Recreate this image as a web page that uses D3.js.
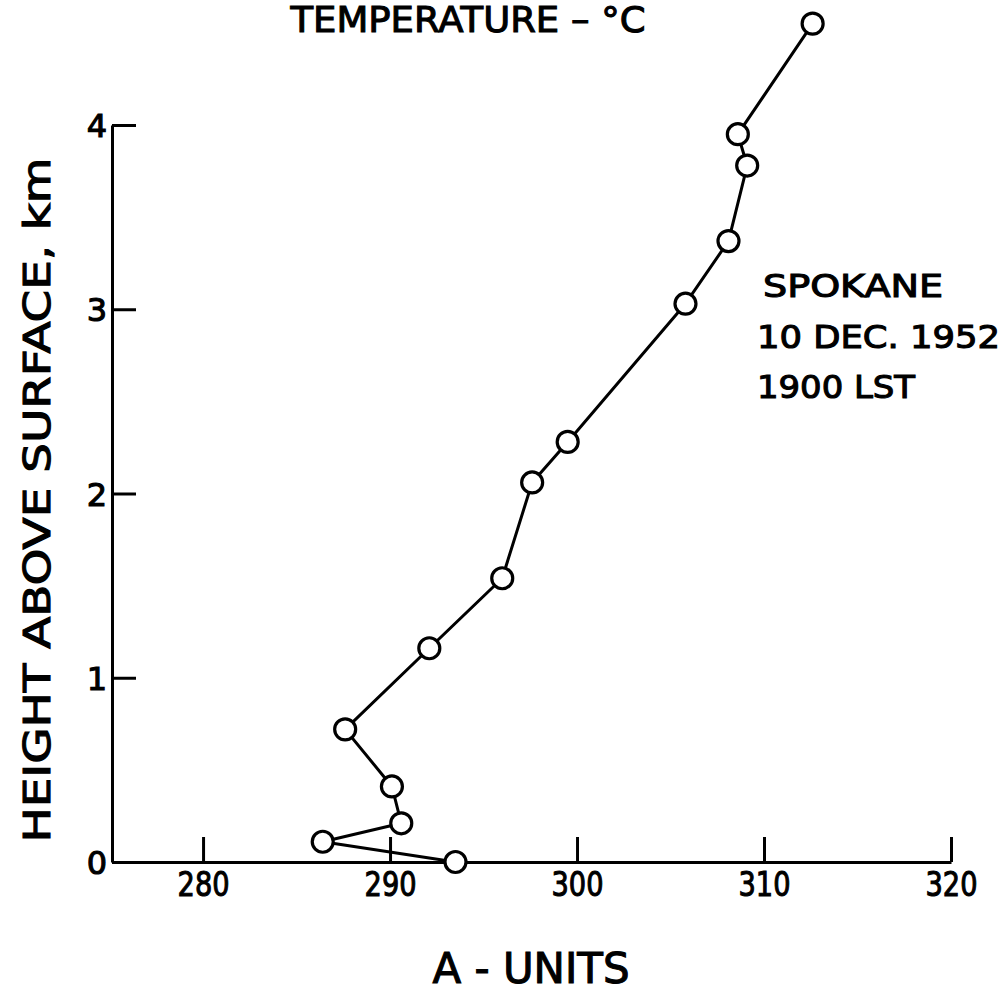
<!DOCTYPE html>
<html><head><meta charset="utf-8">
<script src="https://cdn.jsdelivr.net/npm/d3@7"></script>
<style>
body{margin:0;background:#fff;}
svg{display:block;}
text{font-family:"DejaVu Sans",sans-serif;fill:#000;stroke:#000;stroke-width:1.1px;}
</style></head>
<body>
<svg id="c" width="1008" height="992"></svg>
<script>
// Data (A-units vs height above surface, km), in sounding order
const aUnits = [293.5, 286.4, 290.6, 290.1, 287.6, 292.1, 296.0, 297.6, 299.5, 305.8, 308.1, 309.1, 308.6, 312.6];
const heightKm = [0.00, 0.11, 0.21, 0.41, 0.72, 1.16, 1.54, 2.06, 2.28, 3.03, 3.37, 3.78, 3.95, 4.55];
const xTicks = [280, 290, 300, 310, 320];
const yTicks = [0, 1, 2, 3, 4];
const annotation = ["SPOKANE", "10 DEC. 1952", "1900 LST"];

const svg = d3.select("#c");
const x = d3.scaleLinear().domain([275.13, 320]).range([112, 951]);
const y = d3.scaleLinear().domain([0, 4]).range([862, 125]);

// X axis
const gx = svg.append("g").attr("transform", "translate(0,862)")
  .call(d3.axisBottom(x).tickValues(xTicks).tickSize(-25).tickSizeOuter(0).tickFormat(d3.format("d")));
gx.select(".domain").attr("stroke", "#000").attr("stroke-width", 3);
gx.selectAll(".tick line").attr("stroke", "#000").attr("stroke-width", 3);
gx.selectAll(".tick text").attr("y", 11).attr("dy", "0.71em")
  .attr("textLength", 52).attr("lengthAdjust", "spacingAndGlyphs")
  .style("font-size", "33px").style("font-family", "DejaVu Sans");

// Y axis
const gy = svg.append("g").attr("transform", "translate(112,0)")
  .call(d3.axisLeft(y).tickValues(yTicks).tickSize(-24).tickSizeOuter(0).tickFormat(d3.format("d")));
gy.select(".domain").attr("stroke", "#000").attr("stroke-width", 3);
gy.selectAll(".tick line").attr("stroke", "#000").attr("stroke-width", 3);
gy.selectAll(".tick text").attr("x", -5).attr("dy", "0.36em")
  .style("font-size", "32px").style("font-family", "DejaVu Sans");

// Line
const line = d3.line().x((d, i) => x(aUnits[i])).y((d, i) => y(heightKm[i]));
svg.append("path").datum(aUnits).attr("d", line)
  .attr("fill", "none").attr("stroke", "#000").attr("stroke-width", 3).attr("stroke-linejoin", "round");

// Points
svg.selectAll("circle.pt").data(aUnits).enter().append("circle")
  .attr("class", "pt")
  .attr("cx", d => x(d)).attr("cy", (d, i) => y(heightKm[i])).attr("r", 10.5)
  .attr("fill", "#fff").attr("stroke", "#000").attr("stroke-width", 3.2);

// Titles
svg.append("text").attr("x", 468).attr("y", 32).attr("text-anchor", "middle")
  .attr("textLength", 355).attr("lengthAdjust", "spacingAndGlyphs")
  .style("font-size", "36px").text("TEMPERATURE – °C");

svg.append("text").attr("x", 531).attr("y", 983).attr("text-anchor", "middle")
  .attr("textLength", 197).attr("lengthAdjust", "spacingAndGlyphs")
  .style("font-size", "42px").text("A - UNITS");

svg.append("text").attr("transform", "translate(50,500) rotate(-90)").attr("text-anchor", "middle")
  .attr("textLength", 685).attr("lengthAdjust", "spacingAndGlyphs")
  .style("font-size", "38px").text("HEIGHT  ABOVE  SURFACE, km");

// Annotation
const annY = [297, 348, 398];
const annW = [180, 243, 158];
const annX = [763, 757, 757];
annotation.forEach((t, i) => {
  svg.append("text").attr("x", annX[i]).attr("y", annY[i])
    .attr("textLength", annW[i]).attr("lengthAdjust", "spacingAndGlyphs")
    .style("font-size", "32px").text(t);
});
</script>
</body></html>
